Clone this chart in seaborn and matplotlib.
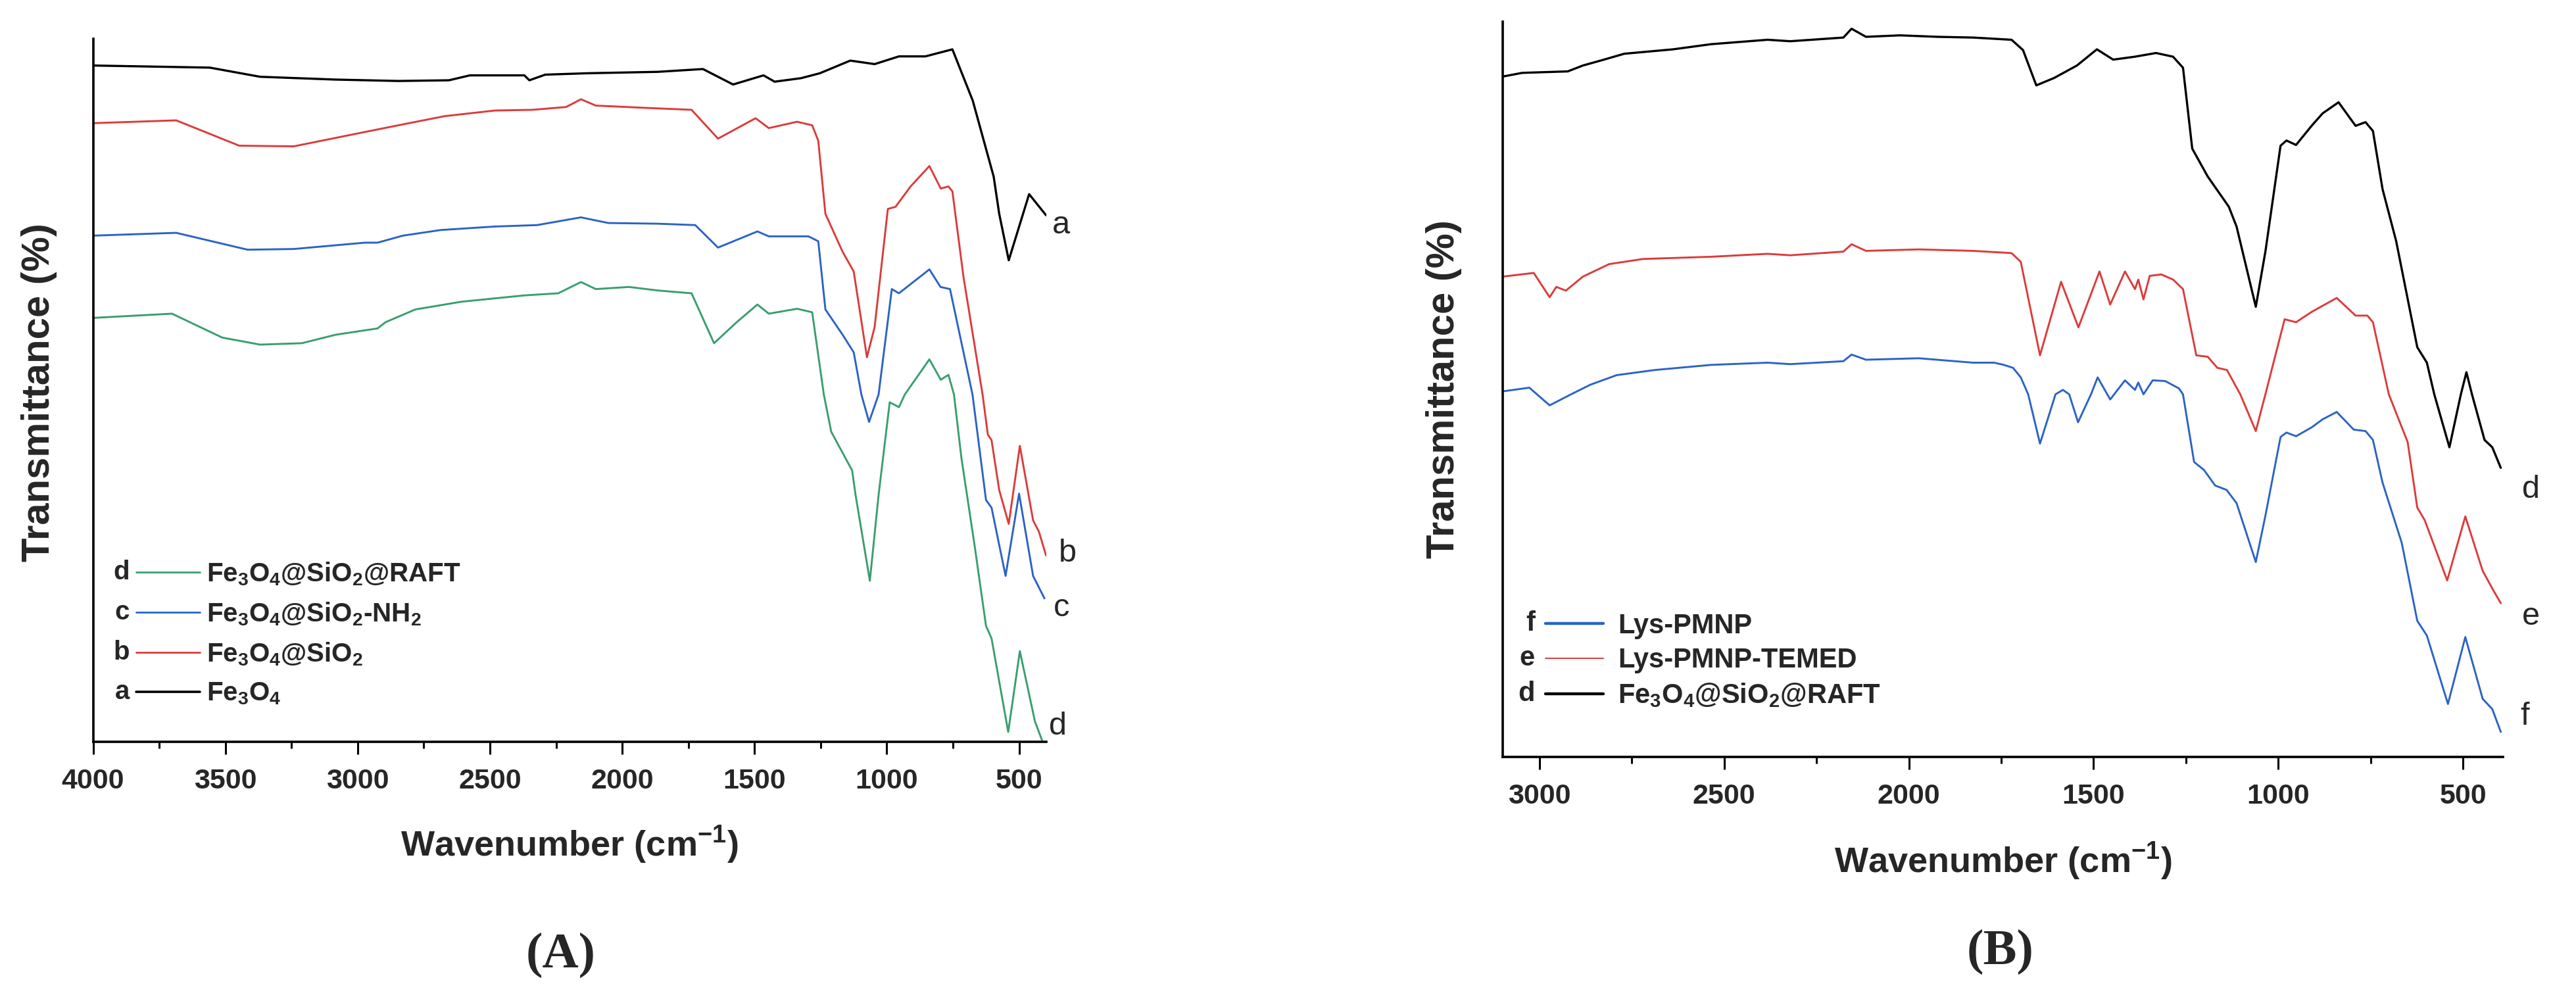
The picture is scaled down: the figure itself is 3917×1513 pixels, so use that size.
import matplotlib
matplotlib.use("Agg")
import matplotlib.pyplot as plt
import seaborn as sns
import pandas as pd
from matplotlib.ticker import MultipleLocator, NullLocator
from matplotlib.lines import Line2D

# ---------------- data (panel A) ----------------
a_wn = [4000, 3559, 3369, 3084, 2846, 2655, 2576, 2370, 2351, 2291, 2132, 1866, 1695, 1581, 1466, 1424,
        1324, 1253, 1138, 1046, 954, 854, 752, 675, 596, 575, 539, 462, 398]
a_t = [96.2, 95.9, 94.6, 94.2, 94.0, 94.1, 94.8, 94.8, 94.1, 94.9, 95.1, 95.3, 95.7, 93.5, 94.8, 93.9,
       94.4, 95.1, 96.9, 96.4, 97.5, 97.5, 98.5, 91.2, 80.4, 75.1, 68.5, 77.9, 74.9]

b_wn = [4000, 3686, 3448, 3242, 3005, 2846, 2671, 2481, 2339, 2212, 2156, 2100, 1866, 1738, 1638, 1496,
        1446, 1339, 1282, 1259, 1232, 1167, 1125, 1075, 1046, 996, 967, 910, 839, 796, 767, 752, 710,
        638, 618, 604, 575, 539, 497, 447, 425, 398]
b_t = [88.0, 88.4, 84.8, 84.7, 86.5, 87.7, 89.0, 89.8, 89.9, 90.3, 91.4, 90.5, 90.1, 89.9, 85.8, 88.7,
       87.3, 88.2, 87.7, 85.5, 75.1, 69.7, 66.9, 54.7, 59.0, 75.8, 76.1, 79.0, 81.9, 78.7, 79.0, 78.3, 66.1,
       49.4, 43.7, 42.9, 35.8, 31.0, 42.1, 31.5, 29.9, 26.5]

c_wn = [4000, 3686, 3416, 3242, 2973, 2925, 2829, 2686, 2481, 2322, 2156, 2053, 1866, 1724, 1638, 1489,
        1446, 1296, 1259, 1232, 1167, 1125, 1096, 1067, 1031, 981, 954, 839, 797, 761, 676, 625, 604,
        551, 500, 447, 404]
c_t = [72.0, 72.4, 70.0, 70.1, 71.0, 71.0, 72.0, 72.8, 73.3, 73.5, 74.6, 73.8, 73.7, 73.5, 70.3, 72.6,
       71.9, 71.9, 71.2, 61.5, 57.9, 55.4, 49.4, 45.5, 49.4, 64.4, 63.8, 67.2, 64.7, 64.4, 49.4, 34.4, 33.3,
       23.6, 35.3, 23.6, 20.4]

d_wn = [4000, 3702, 3512, 3369, 3211, 3084, 2925, 2894, 2782, 2608, 2370, 2242, 2156, 2100, 1974, 1866,
        1738, 1653, 1567, 1489, 1446, 1339, 1282, 1238, 1210, 1131, 1118, 1064, 1031, 989, 954, 932, 839,
        796, 767, 746, 718, 668, 625, 604, 541, 497, 440, 411]
d_t = [60.3, 60.9, 57.5, 56.5, 56.7, 57.9, 58.8, 59.7, 61.5, 62.6, 63.5, 63.8, 65.4, 64.4, 64.7, 64.2,
       63.8, 56.7, 59.7, 62.2, 60.9, 61.6, 61.1, 49.4, 44.1, 38.6, 35.1, 22.9, 35.1, 48.3, 47.6, 49.4, 54.4,
       51.5, 52.2, 49.4, 40.4, 27.9, 16.5, 14.7, 1.4, 12.9, 2.9, 0.0]

# ---------------- data (panel B) ----------------
bd_wn = [3099, 3046, 2923, 2882, 2832, 2770, 2638, 2535, 2382, 2321, 2177, 2155, 2116, 2024, 1922, 1826,
         1722, 1691, 1655, 1607, 1545, 1491, 1447, 1388, 1331, 1285, 1258, 1233, 1191, 1134, 1113, 1061,
         1035, 994, 978, 952, 910, 880, 837, 791, 764, 744, 718, 681, 624, 598, 578, 537, 506, 491, 476,
         442, 421, 398]
bd_t = [92.5, 93.0, 93.2, 94.0, 94.7, 95.6, 96.2, 96.9, 97.5, 97.3, 97.8, 99.0, 97.9, 98.1, 97.9, 97.8,
        97.5, 96.1, 91.3, 92.3, 94.0, 96.2, 94.8, 95.2, 95.7, 95.2, 93.7, 82.7, 78.9, 74.8, 72.1, 61.2,
        68.7, 83.1, 83.8, 83.2, 85.8, 87.5, 89.0, 85.8, 86.3, 85.1, 77.2, 70.1, 55.7, 53.6, 49.3, 42.1, 49.3,
        52.3, 49.3, 43.1, 42.1, 39.3]

be_wn = [3099, 3015, 2972, 2954, 2928, 2882, 2811, 2719, 2535, 2382, 2321, 2177, 2155, 2116, 1973, 1826,
         1722, 1697, 1645, 1588, 1541, 1484, 1455, 1415, 1388, 1379, 1365, 1348, 1317, 1285, 1258, 1222,
         1191, 1165, 1139, 1103, 1061, 1035, 983, 952, 910, 842, 791, 759, 744, 701, 650, 624, 604, 543,
         494, 447, 421, 398]
be_t = [65.3, 65.8, 62.5, 63.9, 63.4, 65.3, 67.0, 67.7, 68.0, 68.4, 68.2, 68.7, 69.7, 68.8, 69.0, 68.8,
        68.5, 67.3, 54.6, 64.6, 58.4, 66.0, 61.5, 66.0, 63.6, 64.9, 62.2, 65.4, 65.6, 64.9, 63.6, 54.6,
        54.4, 52.9, 52.6, 49.3, 44.3, 49.3, 59.5, 59.1, 60.5, 62.4, 60.0, 60.0, 59.1, 49.3, 42.8, 33.9, 32.2,
        24.0, 32.7, 25.3, 22.9, 20.9]

bf_wn = [3099, 3027, 2972, 2914, 2862, 2791, 2688, 2535, 2382, 2321, 2177, 2155, 2116, 1973, 1826, 1769,
         1743, 1718, 1697, 1677, 1645, 1603, 1583, 1566, 1542, 1507, 1489, 1455, 1415, 1388, 1379, 1365,
         1340, 1306, 1269, 1258, 1228, 1201, 1171, 1140, 1113, 1061, 1035, 994, 978, 952, 910, 880, 842,
         796, 764, 744, 718, 666, 624, 598, 541, 494, 447, 421, 398]
bf_t = [49.7, 50.2, 47.8, 49.3, 50.6, 51.9, 52.6, 53.3, 53.6, 53.4, 53.8, 54.7, 54.0, 54.2, 53.6, 53.6,
        53.3, 52.9, 51.6, 49.3, 42.6, 49.3, 49.9, 49.3, 45.5, 49.3, 51.6, 48.6, 51.2, 49.9, 50.9, 49.3,
        51.2, 51.1, 50.1, 49.3, 40.1, 39.0, 36.9, 36.3, 34.5, 26.5, 32.8, 43.5, 44.1, 43.6, 44.8, 45.9, 46.9,
        44.5, 44.3, 43.1, 37.3, 29.1, 18.5, 16.5, 7.2, 16.3, 7.9, 6.5, 3.4]

labels_A = ["Fe$_\\mathregular{3}$O$_\\mathregular{4}$@SiO$_\\mathregular{2}$@RAFT",
            "Fe$_\\mathregular{3}$O$_\\mathregular{4}$@SiO$_\\mathregular{2}$-NH$_\\mathregular{2}$",
            "Fe$_\\mathregular{3}$O$_\\mathregular{4}$@SiO$_\\mathregular{2}$",
            "Fe$_\\mathregular{3}$O$_\\mathregular{4}$"]
letters_A = ["d", "c", "b", "a"]
labels_B = ["Lys-PMNP", "Lys-PMNP-TEMED",
            "Fe$_\\mathregular{3}$O$_\\mathregular{4}$@SiO$_\\mathregular{2}$@RAFT"]
letters_B = ["f", "e", "d"]

RED = "#DC3B3B"
BLUE = "#2B63C6"
GREEN = "#3A9E6E"
BLACK = "#000000"

sns.set_theme(style="white")
plt.rcParams["font.family"] = ["Liberation Sans", "DejaVu Sans"]
plt.rcParams["font.weight"] = "bold"

W, H = 3917, 1513
fig = plt.figure(figsize=(W / 100, H / 100), dpi=100)
fig.patch.set_facecolor("white")

axA = fig.add_axes([141.6 / W, 1 - 1128 / H, (1591 - 141.6) / W, (1128 - 59) / H])
axB = fig.add_axes([2285 / W, 1 - 1151 / H, (3806 - 2285) / W, (1151 - 32.5) / H])


def draw(ax, wn, t, color, lw):
    df = pd.DataFrame({"wn": wn, "T": t})
    sns.lineplot(data=df, x="wn", y="T", color=color, lw=lw, sort=False,
                 estimator=None, ax=ax, legend=False)


draw(axA, d_wn, d_t, GREEN, 2.1)
draw(axA, c_wn, c_t, BLUE, 2.1)
draw(axA, b_wn, b_t, RED, 2.1)
draw(axA, a_wn, a_t, BLACK, 2.4)

draw(axB, bf_wn, bf_t, BLUE, 2.1)
draw(axB, be_wn, be_t, RED, 2.1)
draw(axB, bd_wn, bd_t, BLACK, 2.4)

axA.set_xlim(4000, 397)
axB.set_xlim(3099, 392)
for ax in (axA, axB):
    ax.set_ylim(0, 100)
    ax.set_facecolor("white")
    for s in ("top", "right"):
        ax.spines[s].set_visible(False)
    for s in ("left", "bottom"):
        ax.spines[s].set_linewidth(2.6)
        ax.spines[s].set_color("black")
    ax.xaxis.set_major_locator(MultipleLocator(500))
    ax.xaxis.set_minor_locator(MultipleLocator(250))
    ax.yaxis.set_major_locator(NullLocator())
    ax.tick_params(axis="x", which="major", direction="out", length=14, width=2.2,
                   pad=15, labelsize=31, bottom=True, color="black")
    ax.tick_params(axis="x", which="minor", direction="out", length=7, width=2.2,
                   bottom=True, color="black")
    for lab in ax.get_xticklabels():
        lab.set_fontweight("bold")
    ax.set_xlabel("Wavenumber (cm$^{\\mathregular{-1}}$)", fontsize=39, fontweight="bold")
    ax.set_ylabel("Transmittance (%)", fontsize=43, fontweight="bold")

axA.xaxis.set_label_coords(0.5, -0.117)
axB.xaxis.set_label_coords(0.5, -0.113)
axA.yaxis.set_label_coords(-0.038, 0.497)
axB.yaxis.set_label_coords(-0.041, 0.5)

# curve end letters
end_A = [("a", 340, 73.5), ("b", 317, 26.8), ("c", 340, 19.0), ("d", 354, 2.2)]
end_B = [("d", 317, 36.3), ("e", 317, 19.1), ("f", 333, 5.5)]
for ax, lst in ((axA, end_A), (axB, end_B)):
    for s, x, y in lst:
        ax.text(x, y, s, fontsize=35, fontweight="normal", ha="center", va="center", clip_on=False)

# legends
hA = [Line2D([], [], color=GREEN, lw=2.0), Line2D([], [], color=BLUE, lw=2.0),
      Line2D([], [], color=RED, lw=2.0), Line2D([], [], color=BLACK, lw=2.6)]
hB = [Line2D([], [], color=BLUE, lw=3.2), Line2D([], [], color=RED, lw=1.4),
      Line2D([], [], color=BLACK, lw=3.2)]


def make_legend(ax, handles, labels, fs, hl, htp, x_start, rows, letters, gap):
    ls = 0.3
    fs_px = fs * 100 / 72
    ax_anchor = [x_start / W, 1 - (rows[0] - 30) / H]
    leg = None
    for _ in range(4):
        if leg is not None:
            leg.remove()
        leg = ax.legend(handles, labels, loc="upper left", bbox_to_anchor=tuple(ax_anchor),
                        bbox_transform=fig.transFigure, frameon=False,
                        prop={"size": fs, "weight": "bold"}, handlelength=hl, handletextpad=htp,
                        labelspacing=ls, borderpad=0, borderaxespad=0)
        fig.canvas.draw()
        r = fig.canvas.get_renderer()
        lines = leg.get_lines()
        ext = [ln.get_window_extent(r) for ln in lines]
        x0 = ext[0].x0
        ys = [H - (e.y0 + e.y1) / 2 for e in ext]
        spacing = (ys[-1] - ys[0]) / (len(ys) - 1)
        tgt_spacing = (rows[-1] - rows[0]) / (len(rows) - 1)
        ls += (tgt_spacing - spacing) / fs_px
        ax_anchor[0] += (x_start - x0) / W
        ax_anchor[1] -= (rows[0] - ys[0]) / H
    fig.canvas.draw()
    r = fig.canvas.get_renderer()
    for ln, s in zip(leg.get_lines(), letters):
        e = ln.get_window_extent(r)
        fig.text((e.x0 - gap) / W, ((e.y0 + e.y1) / 2) / H, s, fontsize=fs, fontweight="bold",
                 ha="right", va="center")
    return leg


make_legend(axA, hA, labels_A, 29, 2.4, 0.25, 207, [870, 929, 990, 1051.6], letters_A, 10)
make_legend(axB, hB, labels_B, 30, 2.1, 0.55, 2350, [948, 1002, 1055], letters_B, 16)

fig.text(853 / W, 1 - 1452 / H, "(A)", fontsize=55, fontweight="bold",
         family="Liberation Serif", ha="center", va="center")
fig.text(3042 / W, 1 - 1447 / H, "(B)", fontsize=55, fontweight="bold",
         family="Liberation Serif", ha="center", va="center")

fig.savefig("out.png", dpi=100, facecolor="white")
